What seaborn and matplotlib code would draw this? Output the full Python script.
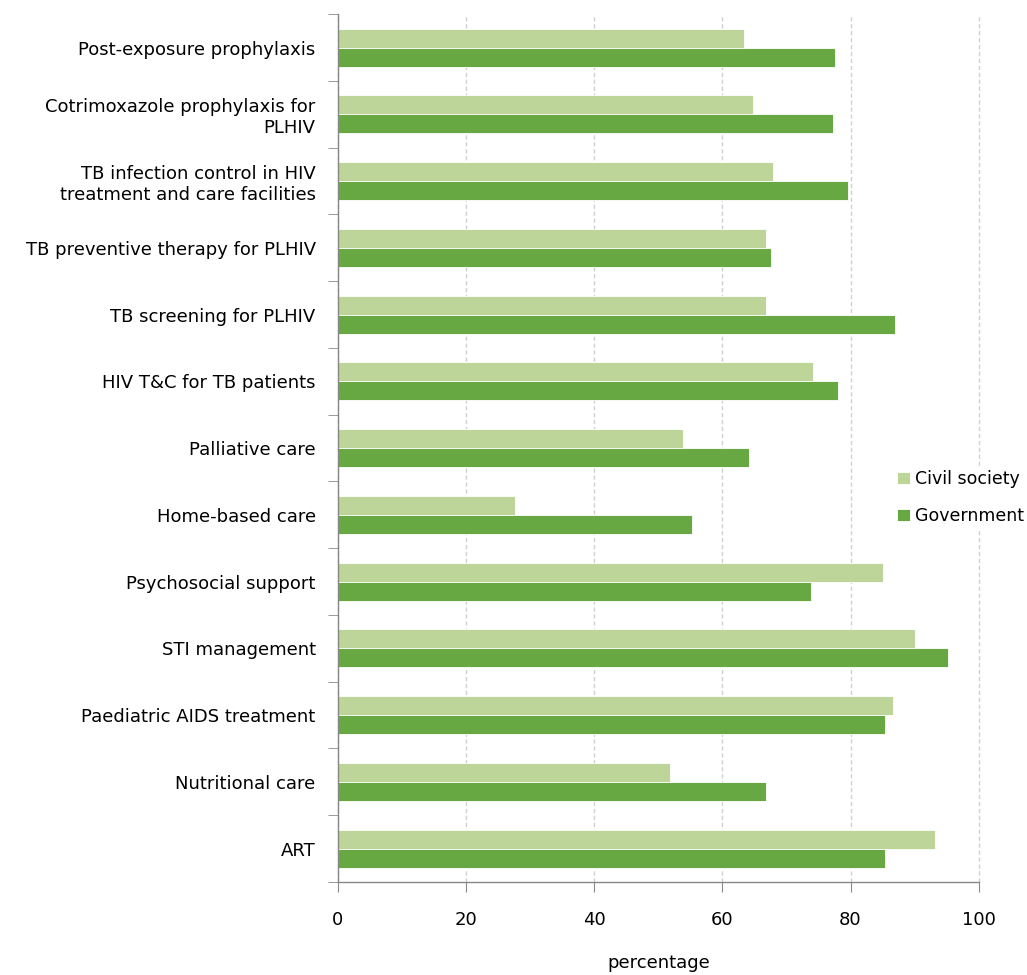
import pandas as pd
import matplotlib.pyplot as plt
import seaborn as sns
from matplotlib.ticker import FixedLocator

# Data
categories = [
    "Post-exposure prophylaxis",
    "Cotrimoxazole prophylaxis for\nPLHIV",
    "TB infection control in HIV\ntreatment and care facilities",
    "TB preventive therapy for PLHIV",
    "TB screening for PLHIV",
    "HIV T&C for TB patients",
    "Palliative care",
    "Home-based care",
    "Psychosocial support",
    "STI management",
    "Paediatric AIDS treatment",
    "Nutritional care",
    "ART",
]
civil_society = [63.3, 64.7, 67.9, 66.8, 66.8, 74.1, 53.8, 27.6, 85.0, 90.0, 86.6, 51.8, 93.1]
government = [77.5, 77.2, 79.6, 67.6, 86.9, 78.0, 64.1, 55.2, 73.8, 95.2, 85.3, 66.8, 85.3]
groups = ["Civil society", "Government"]
colors = ["#BDD599", "#68A843"]

df = pd.DataFrame({
    "category": categories * 2,
    "value": civil_society + government,
    "group": [groups[0]] * len(categories) + [groups[1]] * len(categories),
})

sns.set_style("white")
plt.rcParams["font.family"] = ["DejaVu Sans"]
plt.rcParams["text.color"] = "black"
plt.rcParams["xtick.labelcolor"] = "black"
plt.rcParams["ytick.labelcolor"] = "black"
plt.rcParams["axes.labelcolor"] = "black"

fig = plt.figure(figsize=(10.27, 9.75), dpi=100)
ax = fig.add_axes([0.329, 0.0954, 0.624, 0.89])

sns.barplot(data=df, y="category", x="value", hue="group", order=categories,
            hue_order=groups, palette=colors, orient="h", width=0.57,
            saturation=1, edgecolor="white", linewidth=0.6, ax=ax)

ax.set_xlim(0, 100)
ax.set_ylim(len(categories) - 0.5, -0.5)
ax.set_xticks([0, 20, 40, 60, 80, 100])
ax.tick_params(axis="x", bottom=True, labelsize=13, pad=14, length=7,
               color="#888888", direction="out", labelcolor="black")
ax.tick_params(axis="y", which="major", left=False, labelsize=13, length=0, pad=16,
               labelcolor="black")
ax.yaxis.set_minor_locator(FixedLocator([i - 0.5 for i in range(len(categories) + 1)]))
ax.tick_params(axis="y", which="minor", left=True, length=7, color="#888888",
               direction="out")
ax.xaxis.grid(True, linestyle=(0, (3, 2)), color="#D0D0D0", linewidth=1)
ax.set_axisbelow(True)
for line in ax.get_xgridlines():
    line.set_clip_on(False)

for side in ["top", "right"]:
    ax.spines[side].set_visible(False)
for side in ["left", "bottom"]:
    ax.spines[side].set_color("#888888")
    ax.spines[side].set_linewidth(1)

ax.set_ylabel("")
ax.set_xlabel("percentage", fontsize=13, labelpad=18, color="black")

leg = ax.legend(loc="center left", bbox_to_anchor=(0.862, 0.49), bbox_transform=fig.transFigure,
                frameon=True, facecolor="white", edgecolor="white", framealpha=1,
                fontsize=12.5, handlelength=0.7, handleheight=0.7, handletextpad=0.3,
                labelspacing=1.1, borderpad=0.2)
for t in leg.get_texts():
    t.set_color("black")

fig.savefig("out.png", dpi=100)
